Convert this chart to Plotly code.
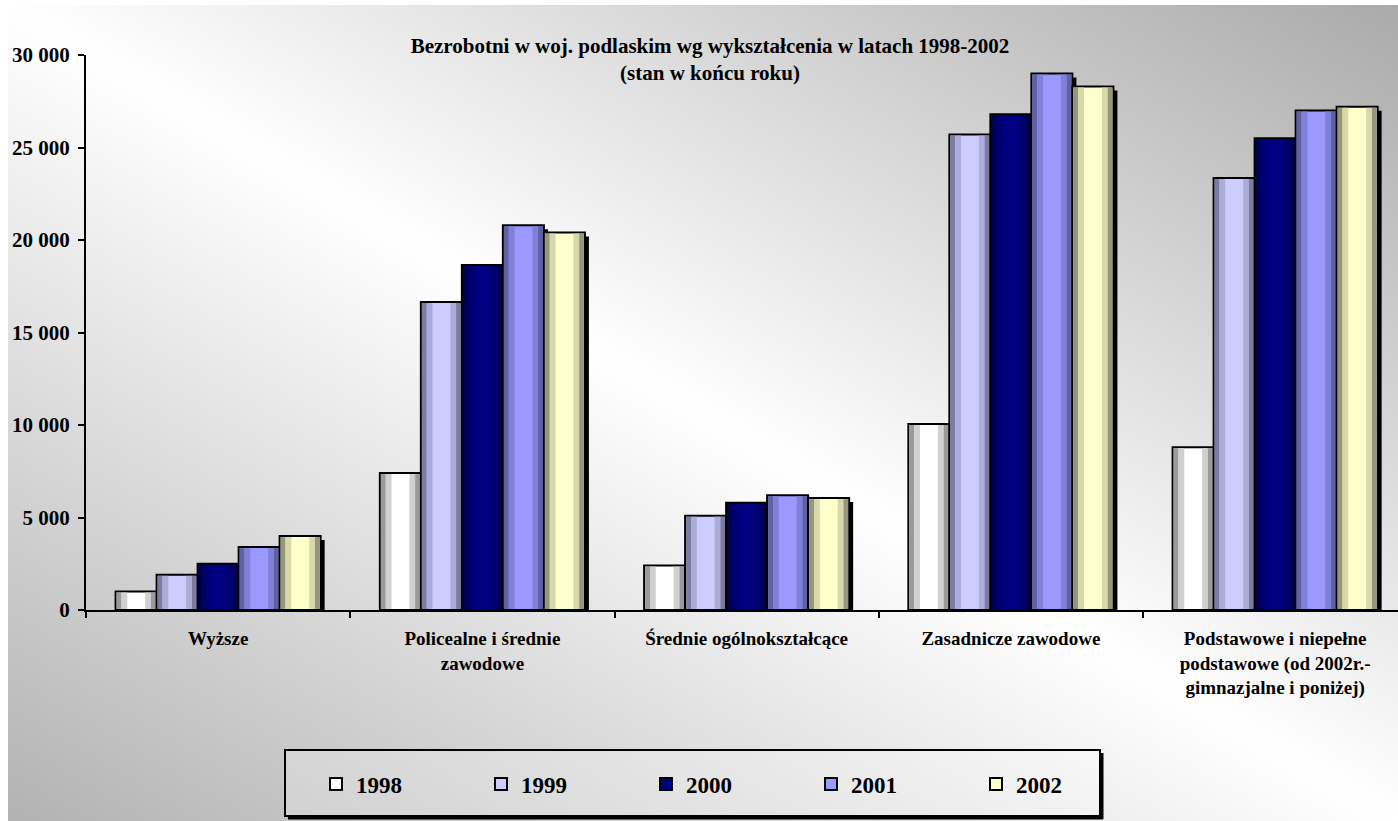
import base64
import plotly.graph_objects as go

categories = ["Wyższe", "Policealne i średnie zawodowe", "Średnie ogólnokształcące",
              "Zasadnicze zawodowe", "Podstawowe i niepełne podstawowe (od 2002r.- gimnazjalne i poniżej)"]
category_labels = ["Wyższe", "Policealne i średnie<br>zawodowe", "Średnie ogólnokształcące",
                   "Zasadnicze zawodowe", "Podstawowe i niepełne<br>podstawowe (od 2002r.-<br>gimnazjalne i poniżej)"]
years = ["1998", "1999", "2000", "2001", "2002"]
v1998 = [1000, 7400, 2400, 10050, 8800]
v1999 = [1900, 16650, 5100, 25700, 23350]
v2000 = [2500, 18650, 5800, 26800, 25500]
v2001 = [3400, 20800, 6200, 29000, 27000]
v2002 = [4000, 20400, 6050, 28300, 27200]
series = [v1998, v1999, v2000, v2001, v2002]
colors = ["#ffffff", "#ccccff", "#000080", "#9999ff", "#ffffcc"]
colors_mid = ["#d0d0d0", "#acacd8", "#00006c", "#8080d8", "#d8d8ac"]
colors_edge = ["#9a9a9a", "#7c7ca2", "#000050", "#6060a4", "#96967a"]

W, H = 1398, 821
L, R, T, B = 86, 0, 55, 211
pw, ph = W - L - R, H - T - B
FONT = "Liberation Serif"
CAT_PX = 264.25            # pixel width of one category
YMAX = 30000
GROUP = 0.776              # fraction of category occupied by the bar group
BW = GROUP / len(years)    # single bar width (category units)
PX_X = 1 / CAT_PX          # one pixel in category units
PX_Y = YMAX / ph           # one pixel in value units

fig = go.Figure()

# drop shadows
for i, vals in enumerate(series):
    fig.add_trace(go.Bar(
        x=categories, y=[v - 4 * PX_Y for v in vals],
        width=BW, offset=-GROUP / 2 + i * BW + 4 * PX_X,
        marker=dict(color="black", line=dict(width=0)),
        showlegend=False, hoverinfo="skip",
    ))

for i, (name, vals) in enumerate(zip(years, series)):
    off = -GROUP / 2 + i * BW
    fig.add_trace(go.Bar(
        name=name, x=categories, y=vals, width=BW, offset=off,
        marker=dict(color=colors[i], line=dict(color="black", width=2)),
    ))
    inner = [v - 2 * PX_Y for v in vals]
    strips = [
        (off + PX_X, 0.12 * BW, colors_edge[i]),
        (off + PX_X + 0.12 * BW, 0.14 * BW, colors_mid[i]),
        (off + 0.72 * BW, 0.14 * BW, colors_mid[i]),
        (off + 0.86 * BW, 0.14 * BW - PX_X, colors_edge[i]),
    ]
    for so, sw, sc in strips:
        fig.add_trace(go.Bar(
            x=categories, y=inner, base=PX_Y, width=sw, offset=so,
            marker=dict(color=sc, line=dict(width=0)),
            showlegend=False, hoverinfo="skip",
        ))

svg = ('<svg xmlns="http://www.w3.org/2000/svg" width="100" height="100" viewBox="0 0 100 100" '
       'preserveAspectRatio="none"><defs><linearGradient id="g" x1="0" y1="1" x2="1" y2="0">'
       '<stop offset="0" stop-color="#b2b2b2"/><stop offset="0.5" stop-color="#ffffff"/>'
       '<stop offset="1" stop-color="#aaaaaa"/></linearGradient></defs>'
       '<rect x="0" y="0" width="100" height="100" fill="url(#g)"/></svg>')
src = "data:image/svg+xml;base64," + base64.b64encode(svg.encode()).decode()

bg_x0, bg_y0 = 8, 5
fig.add_layout_image(dict(
    source=src, xref="paper", yref="paper",
    x=(bg_x0 - L) / pw, y=1 + (T - bg_y0) / ph,
    sizex=(W - bg_x0) / pw, sizey=(H - bg_y0) / ph,
    xanchor="left", yanchor="top", sizing="stretch", layer="below",
))

# legend frame
lx0, lx1, ly0, ly1 = 285, 1100, 750, 816
def px(x):
    return (x - L) / pw
def py(y):
    return 1 - (y - T) / ph
fig.add_shape(type="rect", xref="paper", yref="paper",
              x0=px(lx0), x1=px(lx1), y0=py(ly1), y1=py(ly0),
              line=dict(color="black", width=2), fillcolor="rgba(255,255,255,0.25)", layer="below")
fig.add_shape(type="line", xref="paper", yref="paper",
              x0=px(lx0 + 3), x1=px(lx1 + 3), y0=py(ly1 + 2), y1=py(ly1 + 2),
              line=dict(color="black", width=3))
fig.add_shape(type="line", xref="paper", yref="paper",
              x0=px(lx1 + 2), x1=px(lx1 + 2), y0=py(ly0 + 3), y1=py(ly1 + 3),
              line=dict(color="black", width=3))

fig.update_layout(
    width=W, height=H,
    margin=dict(l=L, r=R, t=T, b=B, autoexpand=False),
    paper_bgcolor="white", plot_bgcolor="rgba(0,0,0,0)",
    separators=", ",
    barmode="overlay",
    title=dict(
        text="Bezrobotni w woj. podlaskim wg wykształcenia w latach 1998-2002<br>(stan w końcu roku)",
        x=710 / W, xanchor="center", xref="container",
        y=1 - 53 / H, yanchor="middle", yref="container",
        font=dict(family=FONT, size=21, color="black", weight="bold"),
    ),
    font=dict(family=FONT, color="black"),
    legend=dict(
        orientation="h", xref="container", yref="container",
        x=316 / W, xanchor="left",
        y=1 - 784 / H, yanchor="middle",
        entrywidth=120, bgcolor="rgba(0,0,0,0)", borderwidth=0,
        font=dict(family=FONT, size=23, color="black", weight="bold"),
    ),
    xaxis=dict(
        type="category", range=[-0.5, -0.5 + pw / CAT_PX],
        tickvals=categories, ticktext=category_labels,
        tickson="boundaries", ticks="outside", ticklen=6, tickwidth=2, tickcolor="black",
        ticklabelstandoff=10,
        showline=True, linecolor="black", linewidth=2, showgrid=False,
        tickfont=dict(family=FONT, size=19, color="black", weight="bold"),
    ),
    yaxis=dict(
        range=[0, YMAX], dtick=5000, tickformat=",d",
        ticks="outside", ticklen=6, tickwidth=2, tickcolor="black",
        ticklabelstandoff=4,
        showline=True, linecolor="black", linewidth=2, showgrid=False, zeroline=False,
        tickfont=dict(family=FONT, size=21, color="black", weight="bold"),
    ),
)

fig.write_html("out.html", config={"displayModeBar": False},
               post_script="document.body.style.margin='0';")
